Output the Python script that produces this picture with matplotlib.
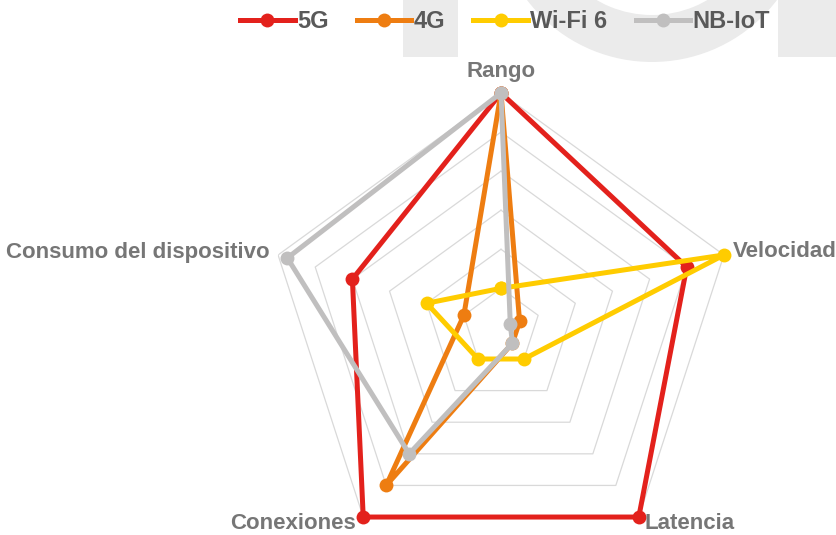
import numpy as np
import matplotlib
matplotlib.use("Agg")
import matplotlib.pyplot as plt
from matplotlib.patches import Rectangle, Annulus

plt.rcParams['font.family'] = ['Liberation Sans', 'DejaVu Sans']

# categorias del radar (sentido horario desde arriba)
categorias = ['Rango', 'Velocidad', 'Latencia', 'Conexiones', 'Consumo del dispositivo']

# puntuaciones de cada tecnologia (escala 0-12)
v_5g = [12, 10, 12, 12, 8]
v_4g = [12, 1, 1, 10, 2]
v_wifi6 = [2, 12, 2, 2, 4]
v_nbiot = [12, 0.5, 1, 8, 11.5]

series = ['5G', '4G', 'Wi-Fi 6', 'NB-IoT']
colores = ['#e3211c', '#ee7d11', '#ffcc00', '#c0bfbf']
valores = [v_5g, v_4g, v_wifi6, v_nbiot]

r_max = 12
anillos = [2, 4, 6, 8, 10, 12]

W, H = 837, 535
fig = plt.figure(figsize=(W / 100, H / 100), dpi=100)

# fondo: letras grandes gris claro cortadas arriba
bg = fig.add_axes([0, 0, 1, 1], zorder=-5)
bg.set_xlim(0, W)
bg.set_ylim(H, 0)
bg.axis('off')
gris_fondo = '#ebebeb'
bg.add_patch(Rectangle((403, -5), 55, 62, color=gris_fondo, lw=0))
bg.add_patch(Rectangle((778, -5), 70, 62, color=gris_fondo, lw=0))
bg.add_patch(Annulus((652, -95), 157, 47, color=gris_fondo, lw=0))

# ejes polares: centro en (501, 327) px, radio 234 px
cx, cy, R = 501, 327.4, 234.4
ax = fig.add_axes([(cx - R) / W, (H - cy - R) / H, 2 * R / W, 2 * R / H],
                  projection='polar', zorder=1)
ax.set_theta_offset(np.pi / 2)
ax.set_theta_direction(-1)
ax.set_ylim(0, r_max)
ax.grid(False)
ax.set_xticks([])
ax.set_yticks([])
ax.spines['polar'].set_visible(False)
ax.patch.set_alpha(0)

n = len(categorias)
ang = np.linspace(0, 2 * np.pi, n, endpoint=False)
ang_c = np.append(ang, ang[0])

# rejilla pentagonal
for r in anillos:
    ax.plot(ang_c, [r] * (n + 1), color='#d9d9d9', lw=0.9, zorder=1)

for nom, col, vals in zip(series, colores, valores):
    ax.plot(ang_c, list(vals) + [vals[0]], color=col, lw=3.6, marker='o',
            markersize=10, markeredgewidth=0, label=nom, zorder=3,
            clip_on=False, solid_joinstyle='round')

# etiquetas de las categorias
desp = [((0, 22), 'center'), ((9, 3), 'left'), ((6, -6), 'left'),
        ((-7, -6), 'right'), ((-8, 2), 'right')]
for a, txt, (off, ha) in zip(ang, categorias, desp):
    ax.annotate(txt, xy=(a, r_max), xytext=off, textcoords='offset pixels',
                ha=ha, va='center', fontsize=16, fontweight='bold',
                color='#767676', annotation_clip=False)

handles, labels = ax.get_legend_handles_labels()
fig.legend(handles, labels, loc='center', bbox_to_anchor=(505 / W, 1 - 22 / H),
           ncol=4, frameon=False, handlelength=2.3, handletextpad=0.1,
           columnspacing=1.2, prop={'size': 17, 'weight': 'bold'},
           labelcolor='#595959')

plt.savefig('out.png', dpi=100)
